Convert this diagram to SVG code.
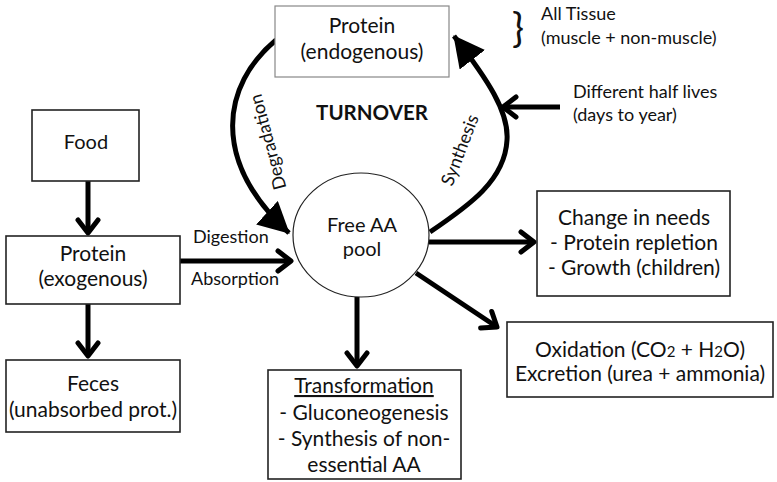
<svg xmlns="http://www.w3.org/2000/svg" width="777" height="482" viewBox="0 0 777 482">
<defs>
<marker id="chev" viewBox="0 0 20 26" markerWidth="20" markerHeight="26" refX="17" refY="13" orient="auto" markerUnits="userSpaceOnUse">
<path d="M4,3 L17,13 L4,23" fill="none" stroke="#000" stroke-width="5" stroke-linecap="round" stroke-linejoin="round"/>
</marker>
<marker id="tri" viewBox="0 0 32 32" markerWidth="32" markerHeight="32" refX="30" refY="16" orient="auto" markerUnits="userSpaceOnUse">
<path d="M0,0 L31,16 L0,32 Z" fill="#000"/>
</marker>
</defs>
<style>
text{font-family:Lato,"Liberation Sans",sans-serif;font-size:18px;fill:#111}
.b{font-size:21px}
.c{text-anchor:middle}
.box{fill:#fff;stroke:#222;stroke-width:1.6}
.gbox{fill:#fff;stroke:#888;stroke-width:1.2}
.ar{fill:none;stroke:#000;stroke-width:5;marker-end:url(#chev)}
.cv{fill:none;stroke:#000;stroke-width:5;marker-end:url(#tri)}
</style>
<rect width="777" height="482" fill="#fff"/>

<g id="connectors">
<line class="ar" x1="88" y1="181" x2="88" y2="233"/>
<line class="ar" x1="88" y1="304" x2="88" y2="356"/>
<line class="ar" x1="180" y1="261" x2="291" y2="261"/>
<line class="ar" x1="429" y1="242" x2="534" y2="242"/>
<line class="ar" x1="416" y1="273" x2="497" y2="327"/>
<line class="ar" x1="357" y1="297" x2="357" y2="366"/>
<line class="ar" x1="560" y1="107" x2="503" y2="107"/>
<path class="cv" d="M276,40 C222,85 210,160 289,233"/>
<path class="cv" d="M430,232 C470,205 505,180 507,140 C509,112 488,80 454,36"/>
</g>

<g id="protein-endogenous">
<rect class="gbox" x="275" y="6" width="174" height="71"/>
<text class="c b" x="362" y="33">Protein</text>
<text class="c b" x="362" y="59">(endogenous)</text>
</g>

<g id="tissue-note">
<text x="512" y="42" style="font-size:40px">}</text>
<text x="541" y="20">All Tissue</text>
<text x="541" y="44">(muscle + non-muscle)</text>
</g>

<g id="halflife-note">
<text x="573" y="98">Different half lives</text>
<text x="573" y="121">(days to year)</text>
</g>

<g id="turnover">
<text class="c" x="372" y="120" style="font-weight:bold;font-size:20.5px">TURNOVER</text>
<text class="c" transform="translate(268,142) rotate(-105)" y="6">Degradation</text>
<text class="c" transform="translate(460,150) rotate(-69)" y="6">Synthesis</text>
</g>

<g id="food">
<rect class="box" x="32" y="110" width="107" height="71"/>
<text class="c" x="86" y="149" style="font-size:20px">Food</text>
</g>

<g id="protein-exogenous">
<rect class="box" x="6" y="236" width="174" height="68"/>
<text class="c b" x="93" y="261">Protein</text>
<text class="c b" x="93" y="286">(exogenous)</text>
</g>

<g id="feces">
<rect class="box" x="6" y="360" width="174" height="72"/>
<text class="c b" x="93" y="391">Feces</text>
<text class="c b" x="93" y="417">(unabsorbed prot.)</text>
</g>

<g id="digestion-labels">
<text x="193" y="243">Digestion</text>
<text x="191" y="285">Absorption</text>
</g>

<g id="free-aa-pool">
<ellipse cx="361" cy="235" rx="68" ry="62" fill="#fff" stroke="#222" stroke-width="1.2"/>
<text class="c" x="362" y="232" style="font-size:20px">Free AA</text>
<text class="c" x="362" y="256" style="font-size:20px">pool</text>
</g>

<g id="change-in-needs">
<rect class="box" x="537" y="191" width="193" height="105"/>
<text class="c b" x="634" y="225">Change in needs</text>
<text class="c b" x="634" y="250">- Protein repletion</text>
<text class="c b" x="634" y="275">- Growth (children)</text>
</g>

<g id="oxidation">
<rect class="box" x="507" y="322" width="266" height="75"/>
<text class="c b" x="640" y="357">Oxidation (CO<tspan style="font-size:15px">2</tspan> + H<tspan style="font-size:15px">2</tspan>O)</text>
<text class="c b" x="640" y="381">Excretion (urea + ammonia)</text>
</g>

<g id="transformation">
<rect class="box" x="268" y="370" width="193" height="109"/>
<text class="c b" x="364" y="393" style="text-decoration:underline">Transformation</text>
<text class="c b" x="364" y="420">- Gluconeogenesis</text>
<text class="c b" x="364" y="446">- Synthesis of non-</text>
<text class="c b" x="364" y="472">essential AA</text>
</g>
</svg>
